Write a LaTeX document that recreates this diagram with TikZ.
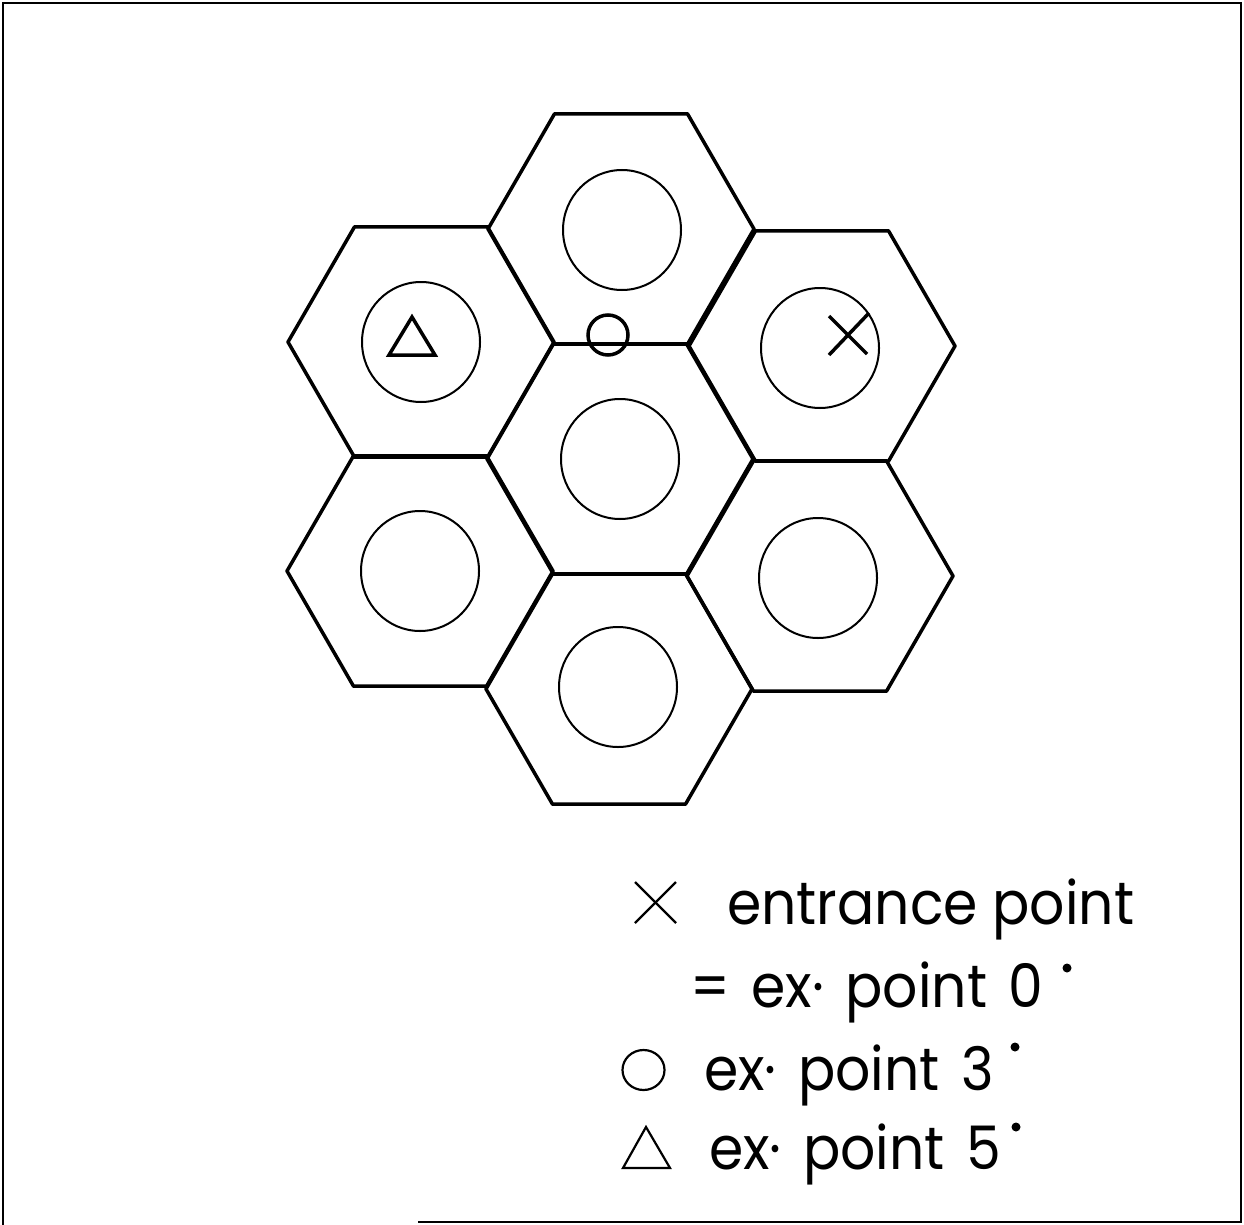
\documentclass[tikz,border=0pt]{standalone}
\usepackage{fontspec}
\setmainfont[FakeStretch=0.92]{Poppins}
\begin{document}
\begin{tikzpicture}[x=1pt,y=-1pt,
  frameline/.style={line width=2.5pt},
  hexline/.style={line width=3.5pt, line join=round},
  ring/.style={line width=2pt},
  symline/.style={line width=3.5pt},
  legsym/.style={line width=2.2pt},
  legtext/.style={anchor=base west, inner sep=0pt, font=\fontsize{60}{72}\selectfont},
  widetext/.style={legtext, execute at begin node={\spaceskip=0.36em plus 0.1em}},
  degdot/.style={circle, fill=black, inner sep=0pt, minimum size=9pt}
]
\useasboundingbox (0,0) rectangle (1244,1225);
% frame (scanned: bottom edge only partly present)
\draw[frameline] (418,1222) -- (1241,1222) -- (1241,3) -- (3,3) -- (3,1225);

% hexagon centres
\coordinate (h0) at (620,459);
\coordinate (h1) at (621,229);
\coordinate (h2) at (421,342);
\coordinate (h3) at (822,346);
\coordinate (h4) at (420,571);
\coordinate (h5) at (820,576);
\coordinate (h6) at (619,689);
\foreach \h in {h0,h1,h2,h3,h4,h5,h6}
  \draw[hexline] (\h) +(0:133) -- +(60:133) -- +(120:133) -- +(180:133) -- +(240:133) -- +(300:133) -- cycle;

% circles
\coordinate (c0) at (620,459);
\coordinate (c1) at (622,230);
\coordinate (c2) at (421,342);
\coordinate (c3) at (820,348);
\coordinate (c4) at (420,571);
\coordinate (c5) at (818,578);
\coordinate (c6) at (618,687);
\foreach \c in {c0,c1,c2,c3,c4,c5,c6}
  \draw[ring] (\c) circle[x radius=59, y radius=60];

% markers
\coordinate (ex3) at (608,335);
\draw[symline] (ex3) circle[radius=20];
\coordinate (ex5a) at (412,317);
\coordinate (ex5b) at (389,355);
\coordinate (ex5c) at (435,355);
\draw[symline, line join=miter] (ex5a) -- (ex5b) -- (ex5c) -- cycle;
\coordinate (xa) at (829,316);
\coordinate (xb) at (867,354);
\coordinate (xc) at (829,355);
\coordinate (xd) at (869,313);
\draw[symline] (xa) -- (xb);
\draw[symline] (xc) -- (xd);

% legend
\coordinate (lx1) at (635,882);
\coordinate (lx2) at (676,923);
\coordinate (lx3) at (635,923);
\coordinate (lx4) at (676,882);
\draw[legsym] (lx1) -- (lx2);
\draw[legsym] (lx3) -- (lx4);
\node[legtext] (l1) at (727,924) {entrance point};
\node[widetext] (l2) at (690,1007) {= ex· point 0};
\node[degdot] (d2) at (1067,968) {};
\coordinate (lo) at (643.5,1070);
\draw[legsym] (lo) circle[x radius=21, y radius=20];
\node[widetext] (l3) at (704,1090) {ex· point 3};
\node[degdot] (d3) at (1015,1047) {};
\coordinate (lt1) at (646,1127);
\coordinate (lt2) at (623,1168);
\coordinate (lt3) at (670,1168);
\draw[legsym, line join=miter] (lt1) -- (lt2) -- (lt3) -- cycle;
\node[widetext] (l4) at (709,1169) {ex· point 5};
\node[degdot] (d4) at (1016,1127) {};
\end{tikzpicture}
\end{document}
